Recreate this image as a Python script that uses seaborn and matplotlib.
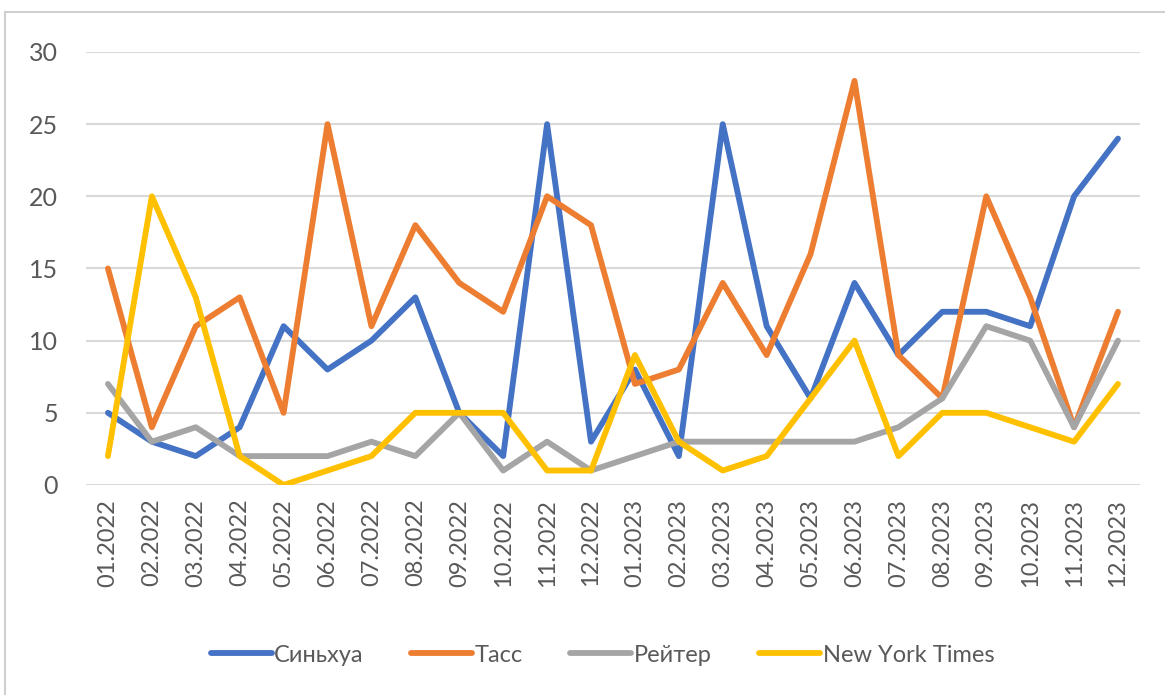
import pandas as pd
import matplotlib.pyplot as plt
import seaborn as sns
from matplotlib.patches import Rectangle

months = ["01.2022", "02.2022", "03.2022", "04.2022", "05.2022", "06.2022",
          "07.2022", "08.2022", "09.2022", "10.2022", "11.2022", "12.2022",
          "01.2023", "02.2023", "03.2023", "04.2023", "05.2023", "06.2023",
          "07.2023", "08.2023", "09.2023", "10.2023", "11.2023", "12.2023"]

xinhua = [5, 3, 2, 4, 11, 8, 10, 13, 5, 2, 25, 3, 8, 2, 25, 11, 6, 14, 9, 12, 12, 11, 20, 24]
tass = [15, 4, 11, 13, 5, 25, 11, 18, 14, 12, 20, 18, 7, 8, 14, 9, 16, 28, 9, 6, 20, 13, 4, 12]
reuters = [7, 3, 4, 2, 2, 2, 3, 2, 5, 1, 3, 1, 2, 3, 3, 3, 3, 3, 4, 6, 11, 10, 4, 10]
nyt = [2, 20, 13, 2, 0, 1, 2, 5, 5, 5, 1, 1, 9, 3, 1, 2, 6, 10, 2, 5, 5, 4, 3, 7]

series = ["Синьхуа", "Тасс", "Рейтер", "New York Times"]
colors = ["#4472C4", "#ED7D31", "#A5A5A5", "#FFC000"]

rows = []
for name, vals in zip(series, [xinhua, tass, reuters, nyt]):
    for i, v in enumerate(vals):
        rows.append({"idx": i, "value": v, "source": name})
df = pd.DataFrame(rows)

sns.set_style("white")
plt.rcParams['font.family'] = ['Lato', 'DejaVu Sans']

fig = plt.figure(figsize=(11.65, 6.95), dpi=100)
ax = fig.add_axes([0.0738, 0.3022, 0.9047, 0.623])

sns.lineplot(data=df, x="idx", y="value", hue="source", hue_order=series,
             palette=colors, linewidth=4.2, ax=ax, legend=True)

ax.set_xlim(-0.5, 23.5)
ax.set_ylim(0, 30)
ax.set_yticks([0, 5, 10, 15, 20, 25, 30])
ax.set_xticks(range(len(months)))
ax.set_xticklabels(months, rotation=90)
ax.set_xlabel("")
ax.set_ylabel("")
ax.grid(axis="y", color="#D9D9D9", linewidth=1.5)
ax.set_axisbelow(True)
for s in ax.spines.values():
    s.set_visible(False)
ax.tick_params(axis="y", length=0, pad=20, labelsize=18, labelcolor="#595959")
ax.tick_params(axis="x", length=0, pad=10, labelsize=17, labelcolor="#595959")

handles, labels = ax.get_legend_handles_labels()
for h in handles:
    h.set_linewidth(4.2)
ax.legend(handles, labels, loc="center", bbox_to_anchor=(0.49, -0.393), ncol=4,
          frameon=False, fontsize=17, handlelength=2.6, handletextpad=0.1,
          columnspacing=2.0, labelcolor="#595959")

# chart border like the spreadsheet frame
fig.patches.append(Rectangle((0.004, -0.01), 1.0, 0.993, transform=fig.transFigure,
                             fill=False, edgecolor="#D0D0D0", linewidth=1.5))

fig.savefig("out.png", dpi=100)
